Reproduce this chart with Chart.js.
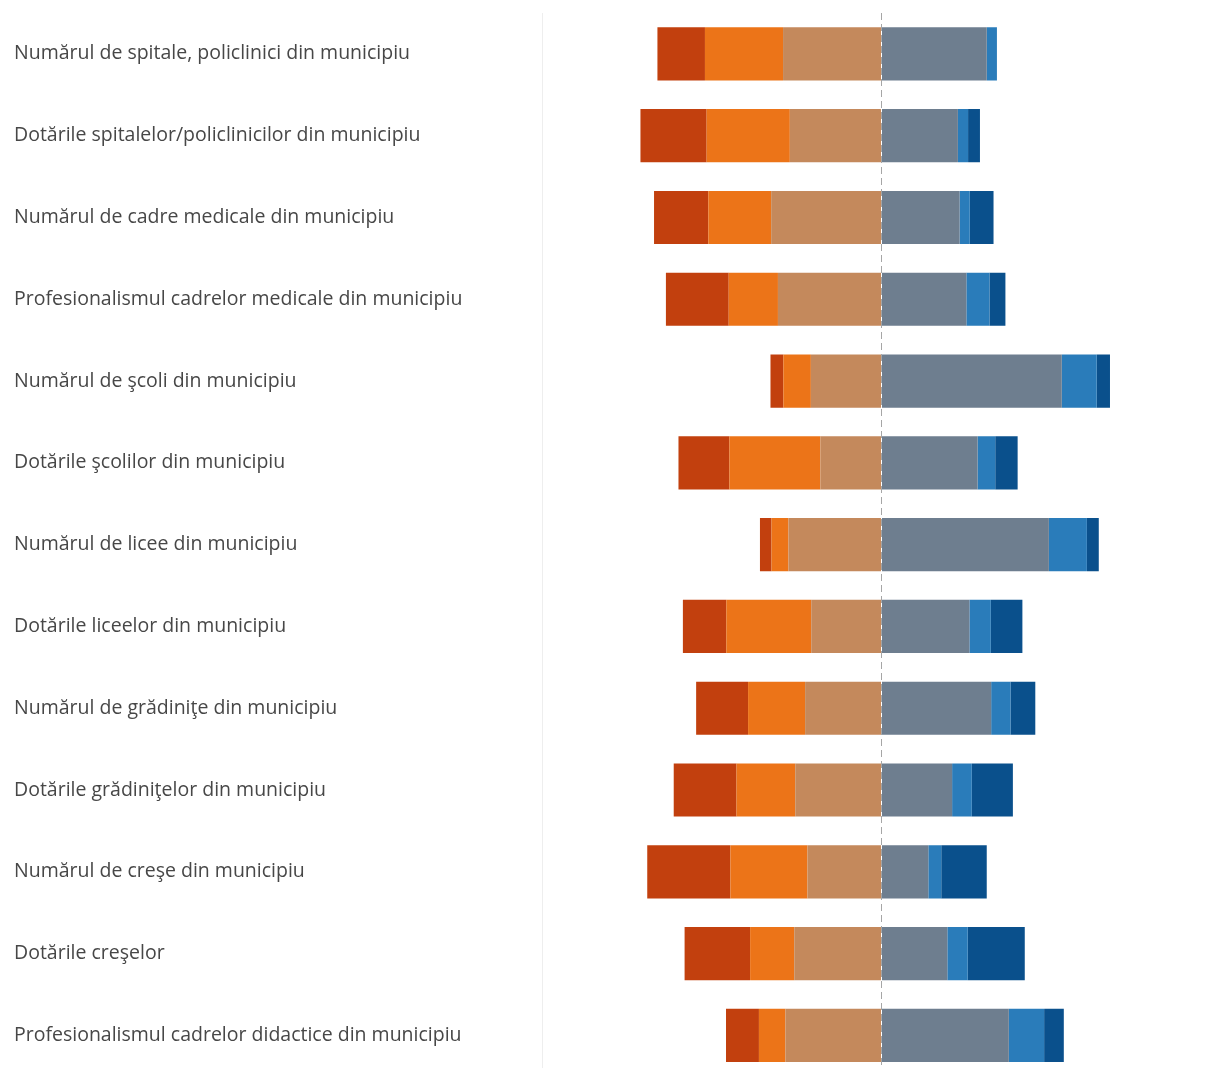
<!DOCTYPE html>
<html>
<head>
<meta charset="utf-8">
<script src="https://cdn.jsdelivr.net/npm/chart.js@4/dist/chart.umd.min.js"></script>
<style>
  html, body { margin: 0; padding: 0; background: #fff; }
  .wrap { width: 1215px; height: 1068px; overflow: hidden; position: relative; }
  canvas { display: block; }
</style>
</head>
<body>
<div class="wrap">
  <canvas id="chart" width="1221" height="1088"></canvas>
</div>
<script>
// categories (top to bottom)
const categories = [
  'Numărul de spitale, policlinici din municipiu',
  'Dotările spitalelor/policlinicilor din municipiu',
  'Numărul de cadre medicale din municipiu',
  'Profesionalismul cadrelor medicale din municipiu',
  'Numărul de şcoli din municipiu',
  'Dotările şcolilor din municipiu',
  'Numărul de licee din municipiu',
  'Dotările liceelor din municipiu',
  'Numărul de grădiniţe din municipiu',
  'Dotările grădiniţelor din municipiu',
  'Numărul de creşe din municipiu',
  'Dotările creşelor',
  'Profesionalismul cadrelor didactice din municipiu'
];

// share of answers, % (left side = negative answers)
const foarteNemultumit = [14, 19.5, 16, 18.5, 3.8, 15, 3.4, 12.8, 15.3, 18.5, 24.5, 19.3, 9.7];
const nemultumit       = [23, 24.5, 18.5, 14.5, 8.1, 26.8, 5, 25, 16.8, 17.3, 22.7, 13, 7.8];
const neutru           = [29, 27, 32.5, 30.5, 20.8, 18, 27.4, 20.7, 22.5, 25.4, 21.8, 25.7, 28.3];
const multumit         = [31, 22.5, 23, 25, 53.1, 28.3, 49.3, 25.9, 32.3, 20.8, 13.8, 19.4, 37.5];
const destulMultumit   = [3, 3, 3, 6.8, 10.3, 5.2, 11.2, 6.3, 5.7, 5.8, 3.8, 6, 10.4];
const foarteMultumit   = [0, 3.5, 7, 4.7, 3.9, 6.6, 3.5, 9.3, 7.3, 12.1, 13.4, 16.8, 5.8];

const neg = arr => arr.map(v => -v);

const ctx = document.getElementById('chart').getContext('2d');
new Chart(ctx, {
  type: 'bar',
  data: {
    labels: categories,
    datasets: [
      { label: 'Neutru', data: neg(neutru), backgroundColor: '#C4895C' },
      { label: 'Nemulțumit', data: neg(nemultumit), backgroundColor: '#EC7418' },
      { label: 'Foarte nemulțumit', data: neg(foarteNemultumit), backgroundColor: '#C2400E' },
      { label: 'Mulțumit', data: multumit, backgroundColor: '#6E7E8F' },
      { label: 'Destul de mulțumit', data: destulMultumit, backgroundColor: '#2A7CBA' },
      { label: 'Foarte mulțumit', data: foarteMultumit, backgroundColor: '#0A508C' }
    ]
  },
  options: {
    indexAxis: 'y',
    responsive: false,
    animation: false,
    datasets: {
      bar: { barPercentage: 0.65, categoryPercentage: 1, borderWidth: 0 }
    },
    layout: { padding: { left: 14, top: 13, right: 0, bottom: 0 } },
    plugins: {
      legend: { display: false },
      tooltip: { enabled: false }
    },
    scales: {
      x: {
        stacked: true,
        min: -100,
        max: 100,
        ticks: { display: false, stepSize: 100 },
        grid: {
          drawTicks: false,
          lineWidth: 1,
          color: c => (c.tick && c.tick.value === 0) ? '#A6A6A6' : 'rgba(0,0,0,0)',
          borderDash: [7, 4]
        },
        border: { display: false, dash: [7, 4] },
        afterFit: scale => { scale.height = 0; }
      },
      y: {
        stacked: true,
        grid: { display: false },
        border: { display: true, color: '#EEEEEE', width: 1 },
        ticks: {
          crossAlign: 'far',
          color: '#474747',
          font: { family: 'Open Sans', size: 19.5 },
          padding: 0
        },
        afterFit: scale => { scale.width = 528; }
      }
    }
  }
});
</script>
</body>
</html>
